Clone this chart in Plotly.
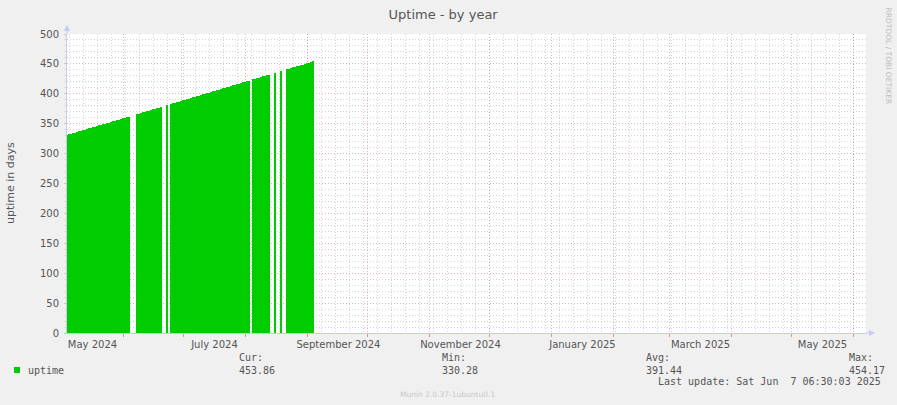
import pandas as pd
import plotly.graph_objects as go

title = "Uptime - by year"
y_title = "uptime in days"
series_name = "uptime"
first_day = "2024-05-04"
# one value per day starting at first_day, None = no data
uptime = [
    330.3, 332, 333, 334, 335, 336, 337, 338, 339, 340,
    341, 342, 343, 344, 345, 346, 347, 348, 349, 350,
    351, 352, 353, 354, 355, 356, 357, 358, 359, 360,
    361, 362, None, None, None, 366, 367, 368, 369, 370,
    371, 372, 373, 374, 375, 376, 377, 378, None, None,
    381, None, 383, 384, 385, 386, 387, 388, 389, 390,
    391, 392, 393, 394, 395, 396, 397, 398, 399, 400,
    401, 402, 403, 404, 405, 406, 407, 408, 409, 410,
    411, 412, 413, 414, 415, 416, 417, 418, 419, 420,
    421, 422, None, 424, 425, 426, 427, 428, 429, 430,
    431, 432, None, None, 435, None, None, 438, None, None,
    441, 442, 443, 444, 445, 446, 447, 448, 449, 450,
    451, 452, 453, 454.2,
]
x_range = ["2024-05-03 18:30", "2025-06-07 06:30"]
month_starts = [
    "2024-06-01", "2024-07-01", "2024-08-01", "2024-09-01", "2024-10-01",
    "2024-11-01", "2024-12-01", "2025-01-01", "2025-02-01", "2025-03-01",
    "2025-04-01", "2025-05-01", "2025-06-01",
]
label_dates = [
    "2024-05-16 12:00", "2024-07-16 12:00", "2024-09-16 12:00", "2024-11-16 12:00",
    "2025-01-16 12:00", "2025-03-16 12:00", "2025-05-16 12:00",
]
label_text = [
    "May 2024", "July 2024", "September 2024", "November 2024",
    "January 2025", "March 2025", "May 2025",
]
stat_heads = ["Cur:", "Min:", "Avg:", "Max:"]
stat_values = ["453.86", "330.28", "391.44", "454.17"]
last_update = "Last update: Sat Jun  7 06:30:03 2025"
footer = "Munin 2.0.37-1ubuntu0.1"
watermark = "RRDTOOL / TOBI OETIKER"

GREEN = "#00CC00"
AXIS = "#c8c8f8"
MGRID = "rgba(205,110,110,0.5)"
GRID = "rgba(170,170,170,0.5)"
TXT = "#555555"
SANS = "DejaVu Sans"
MONO = "DejaVu Sans Mono"
DOTS = "1px,2px"

# plot area in pixels
L, R, T, B = 67, 866, 34, 333


def px(x):
    return (x - L) / (R - L)


def py(y):
    return (B - y) / (B - T)


days = pd.date_range(first_day, periods=len(uptime), freq="D")

fig = go.Figure()
fig.add_trace(go.Bar(
    x=days, y=uptime, name=series_name,
    width=86400000, marker=dict(color=GREEN, line=dict(width=0)),
    showlegend=False, hoverinfo="x+y",
))
# empty trace so the month-label axis gets drawn
fig.add_trace(go.Scatter(x=x_range, y=[None, None], xaxis="x2", mode="lines",
                         showlegend=False, hoverinfo="skip"))

fig.update_layout(
    width=897, height=405, autosize=False,
    margin=dict(l=L, r=897 - R, t=T, b=405 - B),
    paper_bgcolor="#f0f0f0", plot_bgcolor="#ffffff",
    bargap=0,
    title=dict(text=title, x=0.494, xref="container", xanchor="center",
               y=1 - 14 / 405, yanchor="middle",
               font=dict(family=SANS, size=13, color=TXT)),
    xaxis=dict(
        type="date", range=x_range,
        tickmode="array", tickvals=month_starts, ticktext=[""] * len(month_starts),
        ticks="outside", ticklen=3, tickcolor="rgba(220,120,120,0.8)",
        showgrid=True, gridcolor=MGRID, griddash=DOTS, gridwidth=1,
        minor=dict(tick0="2024-05-05", dtick=7 * 86400000, showgrid=True,
                   gridcolor=GRID, griddash=DOTS, ticks=""),
        showline=True, linecolor=AXIS, linewidth=1, zeroline=False,
    ),
    xaxis2=dict(
        type="date", range=x_range, overlaying="x", anchor="y", side="bottom",
        tickmode="array", tickvals=label_dates, ticktext=label_text,
        ticks="", showgrid=False, showline=False, zeroline=False,
        tickfont=dict(family=SANS, size=10, color=TXT), ticklabelstandoff=4,
    ),
    yaxis=dict(
        range=[0, 500], tickmode="linear", tick0=0, dtick=50,
        ticks="outside", ticklen=2, tickcolor="#c8c8c8",
        showgrid=True, gridcolor=MGRID, griddash=DOTS, gridwidth=1,
        minor=dict(dtick=10, showgrid=True, gridcolor=GRID, griddash=DOTS,
                   ticks="outside", ticklen=2, tickcolor="#dddddd"),
        showline=True, linecolor=AXIS, linewidth=1, zeroline=False,
        tickfont=dict(family=SANS, size=10, color=TXT), ticklabelstandoff=3,
    ),
)

# axis arrows (rrdtool style)
shapes = [
    dict(type="line", x0=px(L), x1=px(L), y0=py(T), y1=py(29),
         line=dict(color=AXIS, width=1)),
    dict(type="path", path=f"M {px(64)} {py(31)} L {px(70)} {py(31)} L {px(67)} {py(25)} Z",
         fillcolor=AXIS, line=dict(width=0)),
    dict(type="line", x0=px(R), x1=px(870), y0=py(B), y1=py(B),
         line=dict(color=AXIS, width=1)),
    dict(type="path", path=f"M {px(869)} {py(330)} L {px(869)} {py(336)} L {px(875)} {py(B)} Z",
         fillcolor=AXIS, line=dict(width=0)),
    # legend swatch
    dict(type="rect", x0=px(14), x1=px(20), y0=py(367), y1=py(373),
         fillcolor=GREEN, line=dict(width=0)),
]
for s in shapes:
    s.update(xref="paper", yref="paper", layer="above")
fig.update_layout(shapes=shapes)

ann = []
ann.append(dict(x=px(10), y=py(183), text=y_title, textangle=-90,
                font=dict(family=SANS, size=11, color=TXT)))
ann.append(dict(x=px(26), y=py(370), text=series_name, xanchor="left",
                font=dict(family=MONO, size=10, color=TXT)))
for head, val, xs in zip(stat_heads, stat_values, [236.5, 440, 643.5, 846.5]):
    ann.append(dict(x=px(xs), y=py(357.5), text=head, xanchor="left",
                    font=dict(family=MONO, size=10, color=TXT)))
    ann.append(dict(x=px(xs), y=py(370), text=val, xanchor="left",
                    font=dict(family=MONO, size=10, color=TXT)))
ann.append(dict(x=px(883), y=py(381.5), text=last_update, xanchor="right",
                font=dict(family=MONO, size=10, color=TXT)))
ann.append(dict(x=px(447.5), y=py(394), text=footer,
                font=dict(family=SANS, size=7.5, color="#c8c8c8")))
ann.append(dict(x=px(887.5), y=py(56), text=watermark, textangle=90,
                font=dict(family=SANS, size=7.5, color="#bbbbbb")))
for a in ann:
    a.update(xref="paper", yref="paper", showarrow=False, yanchor="middle")
    a.setdefault("xanchor", "center")
fig.update_layout(annotations=ann)

fig.write_html("out.html", config={"displayModeBar": False},
               post_script="document.body.style.margin='0';")
